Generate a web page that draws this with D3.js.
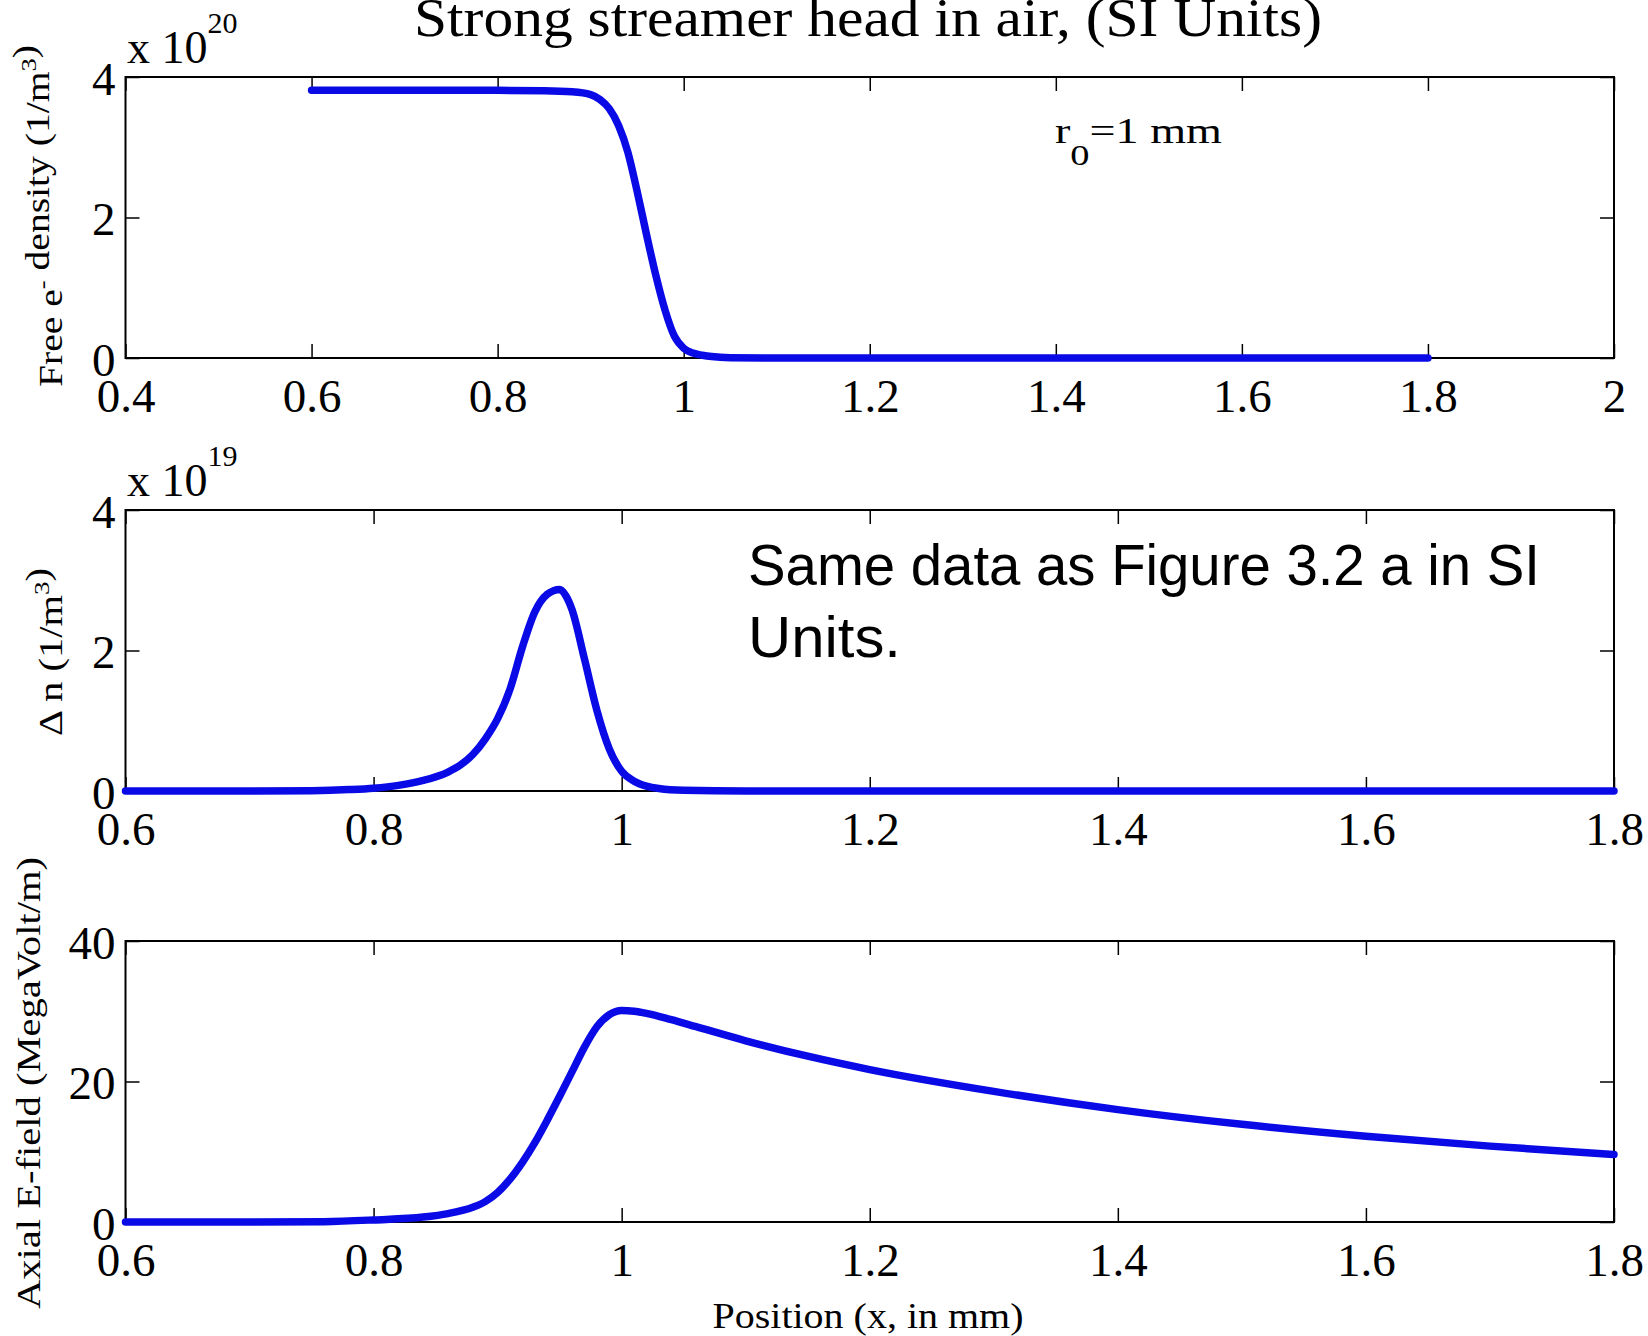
<!DOCTYPE html>
<html>
<head>
<meta charset="utf-8">
<script src="https://cdn.jsdelivr.net/npm/d3@7"></script>
<style>
  body { margin: 0; background: #fff; }
  text { font-family: "Liberation Serif", "Times New Roman", serif; fill: #000; }
</style>
</head>
<body>
<div id="chart"></div>
<script>
// Define SVG area dimensions
var svgWidth = 1648;
var svgHeight = 1336;

// Free electron density (x 10^20 1/m^3) against position (mm)
var xDensity = [0.6, 0.7, 0.8, 0.85, 0.88, 0.9, 0.91, 0.92, 0.93, 0.94, 0.95, 0.96, 0.97, 0.98, 0.99, 1.0, 1.01, 1.02, 1.03, 1.05, 1.1, 1.2, 1.3, 1.4, 1.5, 1.6, 1.7, 1.8];
var density = [3.81, 3.81, 3.81, 3.805, 3.79, 3.75, 3.68, 3.55, 3.31, 2.93, 2.37, 1.76, 1.18, 0.68, 0.31, 0.14, 0.07, 0.04, 0.02, 0.005, 0, 0, 0, 0, 0, 0, 0, 0];

// Delta n (x 10^19 1/m^3)
var xDelta = [0.6, 0.7, 0.75, 0.78, 0.8, 0.82, 0.84, 0.86, 0.87, 0.88, 0.89, 0.9, 0.91, 0.92, 0.93, 0.94, 0.95, 0.955, 0.96, 0.97, 0.98, 0.99, 1.0, 1.01, 1.02, 1.03, 1.05, 1.1, 1.2, 1.4, 1.6, 1.8];
var deltaN = [0, 0, 0.005, 0.02, 0.04, 0.08, 0.15, 0.27, 0.37, 0.52, 0.74, 1.03, 1.45, 2.05, 2.55, 2.8, 2.87, 2.78, 2.58, 1.88, 1.15, 0.6, 0.28, 0.14, 0.07, 0.035, 0.01, 0, 0, 0, 0, 0];

// Axial E-field (MegaVolt/m)
var xField = [0.6, 0.7, 0.76, 0.8, 0.84, 0.86, 0.88, 0.89, 0.9, 0.91, 0.92, 0.93, 0.94, 0.95, 0.96, 0.97, 0.98, 0.99, 1.0, 1.01, 1.02, 1.04, 1.06, 1.1, 1.15, 1.2, 1.3, 1.4, 1.5, 1.6, 1.7, 1.8];
var eField = [0, 0, 0.05, 0.3, 0.7, 1.2, 2.1, 2.9, 4.2, 6.1, 8.5, 11.3, 14.5, 17.9, 21.4, 24.9, 27.8, 29.5, 30.1, 30.0, 29.7, 28.8, 27.8, 25.8, 23.6, 21.7, 18.6, 16.0, 13.9, 12.2, 10.8, 9.6];

// Tick labels
var xTicksWide = [0.4, 0.6, 0.8, 1, 1.2, 1.4, 1.6, 1.8, 2];
var xTicks = [0.6, 0.8, 1, 1.2, 1.4, 1.6, 1.8];
var yTicksDensity = [0, 2, 4];
var yTicksField = [0, 20, 40];

// Plot box, shared by the three panels
var left = 125.5;
var right = 1614;
var panelHeight = 281;

var svg = d3.select("#chart")
  .append("svg")
  .attr("width", svgWidth)
  .attr("height", svgHeight);

svg.append("rect")
  .attr("width", svgWidth)
  .attr("height", svgHeight)
  .attr("fill", "#fff");

var panels = [
  { top: 77, xs: xDensity, ys: density, xDomain: [0.4, 2], xTicks: xTicksWide, yDomain: [0, 4], yTicks: yTicksDensity, exponent: "20" },
  { top: 510, xs: xDelta, ys: deltaN, xDomain: [0.6, 1.8], xTicks: xTicks, yDomain: [0, 4], yTicks: yTicksDensity, exponent: "19" },
  { top: 941, xs: xField, ys: eField, xDomain: [0.6, 1.8], xTicks: xTicks, yDomain: [0, 40], yTicks: yTicksField, exponent: null }
];

var tickFormat = d3.format("~g");

panels.forEach(function(p) {
  var xScale = d3.scaleLinear()
    .domain(p.xDomain)
    .range([left, right]);

  var yScale = d3.scaleLinear()
    .domain(p.yDomain)
    .range([p.top + panelHeight, p.top]);

  var g = svg.append("g");

  // inward ticks on all four sides
  var bottomAxis = g.append("g")
    .attr("transform", `translate(0, ${p.top + panelHeight})`)
    .call(d3.axisBottom(xScale).tickValues(p.xTicks).tickSize(-14).tickSizeOuter(0).tickFormat(tickFormat));

  bottomAxis.selectAll("text")
    .attr("y", 54)
    .attr("dy", null)
    .style("font-size", "47px")
    .style("font-family", "Liberation Serif");

  g.append("g")
    .attr("transform", `translate(0, ${p.top})`)
    .call(d3.axisTop(xScale).tickValues(p.xTicks).tickSize(-14).tickSizeOuter(0).tickFormat(""));

  var leftAxis = g.append("g")
    .attr("transform", `translate(${left}, 0)`)
    .call(d3.axisLeft(yScale).tickValues(p.yTicks).tickSize(-14).tickSizeOuter(0).tickFormat(tickFormat));

  leftAxis.selectAll("text")
    .attr("x", -10)
    .attr("dy", 17)
    .style("font-size", "47px")
    .style("font-family", "Liberation Serif");

  g.append("g")
    .attr("transform", `translate(${right}, 0)`)
    .call(d3.axisRight(yScale).tickValues(p.yTicks).tickSize(-14).tickSizeOuter(0).tickFormat(""));

  g.selectAll(".domain").remove();
  g.selectAll(".tick line")
    .attr("stroke", "#000")
    .attr("stroke-width", 1.5);

  // box
  g.append("rect")
    .attr("x", left)
    .attr("y", p.top)
    .attr("width", right - left)
    .attr("height", panelHeight)
    .attr("fill", "none")
    .attr("stroke", "#000")
    .attr("stroke-width", 2);

  var line = d3.line()
    .x((d, i) => xScale(p.xs[i]))
    .y(d => yScale(d))
    .curve(d3.curveMonotoneX);

  g.append("path")
    .datum(p.ys)
    .attr("d", line)
    .attr("fill", "none")
    .attr("stroke", "#0a0ae6")
    .attr("stroke-width", 7.5)
    .attr("stroke-linecap", "round")
    .attr("stroke-linejoin", "round");

  // exponent above the y axis
  if (p.exponent) {
    var ex = g.append("text")
      .attr("x", 127)
      .attr("y", p.top - 14)
      .style("font-size", "46px");
    ex.append("tspan").text("x 10");
    ex.append("tspan")
      .attr("dy", -30)
      .style("font-size", "30px")
      .text(p.exponent);
  }
});

// title
svg.append("text")
  .attr("x", 868)
  .attr("y", 36)
  .attr("text-anchor", "middle")
  .attr("textLength", 908)
  .attr("lengthAdjust", "spacingAndGlyphs")
  .style("font-size", "54px")
  .text("Strong streamer head in air, (SI Units)");

// y axis labels, parts given as {up: ...} are raised
function yLabel(x, cy, len, parts) {
  var t = svg.append("text")
    .attr("transform", `translate(${x}, ${cy}) rotate(-90)`)
    .attr("text-anchor", "middle")
    .attr("textLength", len)
    .attr("lengthAdjust", "spacingAndGlyphs")
    .style("font-size", "33px");
  parts.forEach(function(s) {
    if (typeof s === "string") {
      t.append("tspan").text(s);
    } else {
      t.append("tspan").attr("dy", -13).style("font-size", "22px").text(s.up);
      t.append("tspan").attr("dy", 13).text("");
    }
  });
}

yLabel(62, 216, 342, ["Free e", { up: "-" }, " density (1/m", { up: "3" }, ")"]);
yLabel(62, 652, 168, ["\u0394 n (1/m", { up: "3" }, ")"]);
yLabel(40, 1083, 452, ["Axial E-field (MegaVolt/m)"]);

// x axis label
svg.append("text")
  .attr("x", 868)
  .attr("y", 1328)
  .attr("text-anchor", "middle")
  .attr("textLength", 311)
  .attr("lengthAdjust", "spacingAndGlyphs")
  .style("font-size", "36px")
  .text("Position (x, in mm)");

// r0 annotation
var r0 = svg.append("text")
  .attr("x", 1055)
  .attr("y", 143)
  .attr("textLength", 167)
  .attr("lengthAdjust", "spacingAndGlyphs")
  .style("font-size", "36px");
r0.append("tspan").text("r");
r0.append("tspan").attr("dy", 22).style("font-size", "30px").text("0");
r0.append("tspan").attr("dy", -22).text("=1 mm");

// note in the middle panel
svg.append("text")
  .attr("x", 748)
  .attr("y", 585)
  .attr("textLength", 792)
  .attr("lengthAdjust", "spacingAndGlyphs")
  .style("font-family", "'Liberation Sans Narrow', 'Liberation Sans', sans-serif")
  .style("font-size", "57px")
  .text("Same data as Figure 3.2 a in SI");

svg.append("text")
  .attr("x", 748)
  .attr("y", 657)
  .attr("textLength", 153)
  .attr("lengthAdjust", "spacingAndGlyphs")
  .style("font-family", "'Liberation Sans Narrow', 'Liberation Sans', sans-serif")
  .style("font-size", "57px")
  .text("Units.");
</script>
</body>
</html>
